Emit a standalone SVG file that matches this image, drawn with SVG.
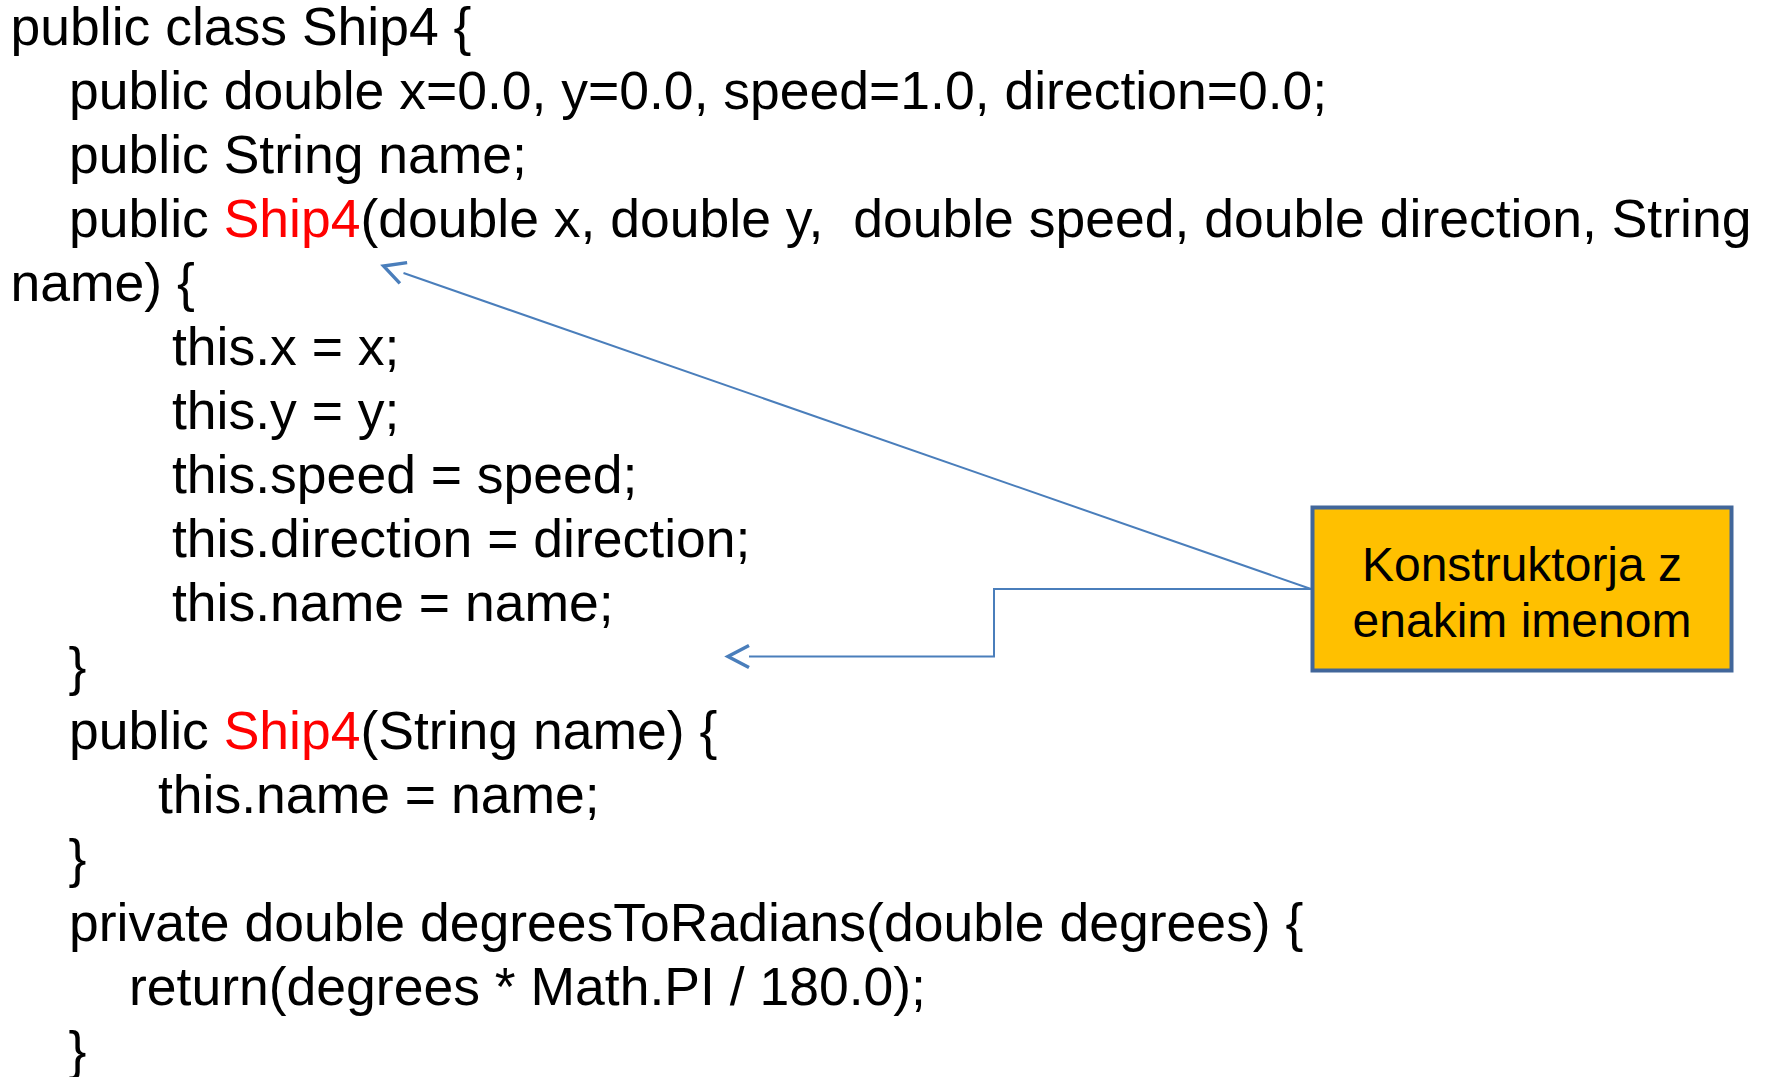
<svg xmlns="http://www.w3.org/2000/svg" width="1769" height="1077" viewBox="0 0 1769 1077">
<style>
.code{font-family:"Liberation Sans",Arial,sans-serif;font-size:53.5px;fill:#000;white-space:pre}
.red{fill:#FF0000}
.lbl{font-family:"Liberation Sans",Arial,sans-serif;font-size:48px;fill:#000;text-anchor:middle}
.conn{fill:none;stroke:#4A7EBB;stroke-width:2}
</style>
<defs>
<marker id="arr" markerUnits="userSpaceOnUse" markerWidth="40" markerHeight="40" refX="0" refY="0" orient="auto" overflow="visible">
<path d="M0,-11 L21,0 L0,11" fill="none" stroke="#4A7EBB" stroke-width="3.5"/>
</marker>
</defs>
<rect width="1769" height="1077" fill="#fff"/>
<g id="code">
<text class="code" x="10.5" y="45">public class Ship4 {</text>
<text class="code" x="69" y="109">public double x=0.0, y=0.0, speed=1.0, direction=0.0;</text>
<text class="code" x="69" y="173">public String name;</text>
<text class="code" x="69" y="237">public <tspan class="red">Ship4</tspan>(double x, double y,  double speed, double direction, String</text>
<text class="code" x="10.5" y="301">name) {</text>
<text class="code" x="172" y="365">this.x = x;</text>
<text class="code" x="172" y="429">this.y = y;</text>
<text class="code" x="172" y="493">this.speed = speed;</text>
<text class="code" x="172" y="557">this.direction = direction;</text>
<text class="code" x="172" y="621">this.name = name;</text>
<text class="code" x="68.5" y="685">}</text>
<text class="code" x="69" y="749">public <tspan class="red">Ship4</tspan>(String name) {</text>
<text class="code" x="158" y="813">this.name = name;</text>
<text class="code" x="68.5" y="877">}</text>
<text class="code" x="69" y="941">private double degreesToRadians(double degrees) {</text>
<text class="code" x="129" y="1005">return(degrees * Math.PI / 180.0);</text>
<text class="code" x="68.5" y="1069">}</text>
</g>
<g id="connectors">
<path class="conn" d="M1311,589 L403.5,273" marker-end="url(#arr)"/>
<path class="conn" d="M1311,589 L994,589 L994,656.5 L749,656.5" marker-end="url(#arr)"/>
</g>
<g id="box">
<rect x="1312.5" y="507.5" width="419" height="163" fill="#FFC000" stroke="#41669A" stroke-width="4"/>
<text class="lbl" x="1522" y="581">Konstruktorja z</text>
<text class="lbl" x="1522" y="637">enakim imenom</text>
</g>
</svg>
